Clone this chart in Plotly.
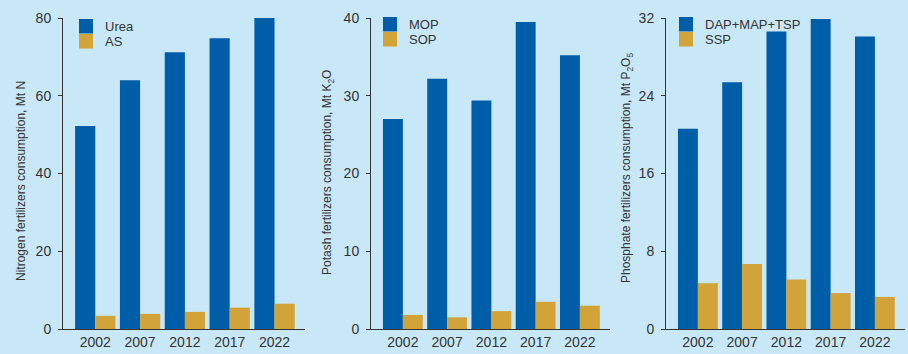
import plotly.graph_objects as go

years = ["2002", "2007", "2012", "2017", "2022"]

urea = [52.2, 64.0, 71.2, 74.8, 80.0]
ammonium_sulfate = [3.4, 3.9, 4.4, 5.5, 6.5]

mop = [27.0, 32.2, 29.4, 39.5, 35.2]
sop = [1.8, 1.5, 2.3, 3.5, 3.0]

dap_map_tsp = [20.6, 25.4, 30.6, 31.9, 30.1]
ssp = [4.7, 6.7, 5.1, 3.7, 3.3]

BLUE = "#005DA8"
GOLD = "#D1A338"
BG = "#C8E8F8"
INK = "#333333"
FONT = "Liberation Sans"

W, H = 908, 354


def px_x(v):
    return v / W


def px_y(v):
    return (H - v) / H


panels = [
    dict(main=("Urea", urea), minor=("AS", ammonium_sulfate), ymax=80, dtick=20,
         xdom=(63, 305), title="Nitrogen fertilizers consumption, Mt N", tx=21, ty=181,
         key_x=79, key_y=19),
    dict(main=("MOP", mop), minor=("SOP", sop), ymax=40, dtick=10,
         xdom=(371, 610), title="Potash fertilizers consumption, Mt K<sub>2</sub>O", tx=328, ty=173,
         key_x=383, key_y=17),
    dict(main=("DAP+MAP+TSP", dap_map_tsp), minor=("SSP", ssp), ymax=32, dtick=8,
         xdom=(666, 905), title="Phosphate fertilizers consumption, Mt P<sub>2</sub>O<sub>5</sub>", tx=627, ty=168,
         key_x=679, key_y=17),
]

y_bottom_px, y_top_px = 329, 18
ydom = [px_y(y_bottom_px), px_y(y_top_px)]

fig = go.Figure()
annotations = []
shapes = []

for i, p in enumerate(panels, start=1):
    sfx = "" if i == 1 else str(i)
    for j, ((name, vals), color) in enumerate(((p["main"], BLUE), (p["minor"], GOLD))):
        fig.add_trace(go.Bar(
            x=years, y=vals, name=name, marker=dict(color=color, line=dict(width=0)),
            xaxis=f"x{sfx}", yaxis=f"y{sfx}", showlegend=False,
        ))
        # key: colour swatch plus series name, stacked in the top-left corner
        top = p["key_y"] + j * 15
        shapes.append(dict(
            type="rect", xref="paper", yref="paper", line=dict(width=0), fillcolor=color,
            x0=px_x(p["key_x"]), x1=px_x(p["key_x"] + 14), y0=px_y(top + 14.5), y1=px_y(top),
        ))
        annotations.append(dict(
            text=name, x=px_x(p["key_x"] + 24), y=px_y(top + 7.5), xref="paper", yref="paper",
            xanchor="left", yanchor="middle", showarrow=False,
            font=dict(family=FONT, size=13, color=INK),
        ))

    fig.layout[f"xaxis{sfx}"] = dict(
        domain=[px_x(p["xdom"][0]), px_x(p["xdom"][1])], anchor=f"y{sfx}",
        type="category", range=[-0.72, 4.68], showline=True, linecolor=INK, linewidth=1,
        ticks="", showgrid=False, zeroline=False, automargin=False,
        tickfont=dict(family=FONT, size=14, color=INK), fixedrange=True,
    )
    fig.layout[f"yaxis{sfx}"] = dict(
        domain=ydom, anchor=f"x{sfx}", range=[0, p["ymax"]], dtick=p["dtick"],
        showline=True, linecolor=INK, linewidth=1, ticks="outside", ticklen=4,
        tickcolor=INK, showgrid=False, zeroline=False, automargin=False,
        tickfont=dict(family=FONT, size=14, color=INK), ticklabelstandoff=4,
        fixedrange=True,
    )
    annotations.append(dict(
        text=p["title"], textangle=-90, x=px_x(p["tx"]), y=px_y(p["ty"]),
        xref="paper", yref="paper", xanchor="center", yanchor="middle",
        showarrow=False, font=dict(family=FONT, size=12, color=INK),
    ))

fig.update_layout(
    template="none",
    width=W, height=H, margin=dict(l=0, r=0, t=0, b=0, autoexpand=False),
    paper_bgcolor=BG, plot_bgcolor=BG, barmode="group", bargap=0.1, bargroupgap=0,
    showlegend=False, annotations=annotations, shapes=shapes,
    font=dict(family=FONT, color=INK),
)

fig.write_html("out.html", config=dict(displayModeBar=False))
